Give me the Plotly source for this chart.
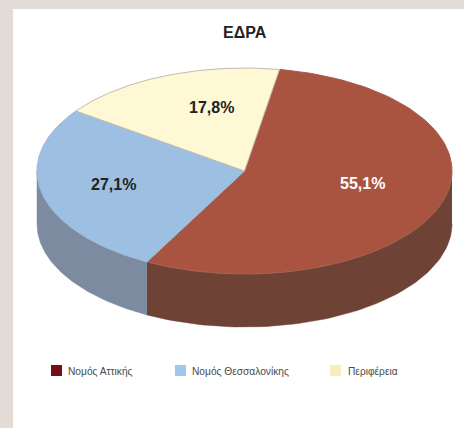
import numpy as np
import plotly.graph_objects as go

categories = ["Νομός Αττικής", "Νομός Θεσσαλονίκης", "Περιφέρεια"]
values = [55.1, 27.1, 17.8]
title_text = "ΕΔΡΑ"

top_colors = ["#a85440", "#9dbfe2", "#fff8d4"]
edge_colors = ["#a5604e", "#9db8d6", "#c4bab0"]
side_colors = ["#6f4236", "#7c8b9f", None]
legend_colors = ["#770d16", "#a0c8ec", "#f5efbf"]

W, H = 464, 428
CX, CY, RX, RY, DEPTH = 244.5, 171.0, 207.5, 103.0, 53.0
START = 9.7


def ell(a, dy=0.0):
    r = np.radians(a)
    return CX + RX * np.sin(r), CY - RY * np.cos(r) + dy


fig = go.Figure()
edges = START + np.concatenate([[0], np.cumsum(values)]) * 3.6

# side wall: only the front half of the ellipse (90..270 degrees) is visible
for i, col in enumerate(side_colors):
    lo, hi = max(edges[i], 90), min(edges[i + 1], 270)
    if col is None or lo >= hi:
        continue
    a = np.linspace(lo, hi, 80)
    x1, y1 = ell(a)
    x2, y2 = ell(a[::-1], DEPTH)
    fig.add_trace(go.Scatter(x=np.r_[x1, x2], y=np.r_[y1, y2], mode="lines", fill="toself",
                             fillcolor=col, line=dict(color=col, width=0.5),
                             hoverinfo="skip", showlegend=False))

# top face
for i, col in enumerate(top_colors):
    a = np.linspace(edges[i], edges[i + 1], 120)
    x, y = ell(a)
    fig.add_trace(go.Scatter(x=np.r_[CX, x, CX], y=np.r_[CY, y, CY], mode="lines", fill="toself",
                             fillcolor=col, line=dict(color=edge_colors[i], width=1),
                             name=categories[i], hoverinfo="skip", showlegend=False))

# legend row
swatch_x = [56.5, 180.5, 335.5]
legend_text_x = [66, 190, 346]
LEGEND_Y = 370.5
fig.add_trace(go.Scatter(x=swatch_x, y=[LEGEND_Y] * 3, mode="markers", hoverinfo="skip", showlegend=False,
                         marker=dict(symbol="square", size=11, color=legend_colors)))

annotations = [dict(x=tx, y=LEGEND_Y + 0.5, text=cat, showarrow=False, xanchor="left",
                    font=dict(family="Liberation Sans", size=10.2, color="#4a4a4a"))
               for tx, cat in zip(legend_text_x, categories)]

label_pos = [(362, 183), (113, 184), (211, 107)]
label_colors = ["#ffffff", "#222222", "#222222"]
annotations += [dict(x=p[0], y=p[1], text=f"<b>{v:.1f}%</b>".replace(".", ","), showarrow=False,
                     font=dict(family="Liberation Sans", size=16, color=c))
                for v, p, c in zip(values, label_pos, label_colors)]
annotations.append(dict(x=245, y=32, text=f"<b>{title_text}</b>", showarrow=False,
                        font=dict(family="Liberation Sans", size=16, color="#222222")))

fig.update_layout(width=W, height=H, margin=dict(l=13, r=0, t=9, b=0),
                  paper_bgcolor="#e3dcd6", plot_bgcolor="#ffffff", showlegend=False,
                  xaxis=dict(range=[13, W], visible=False, fixedrange=True),
                  yaxis=dict(range=[H, 9], visible=False, fixedrange=True),
                  annotations=annotations)
fig.write_html("out.html", config=dict(displayModeBar=False),
               post_script="document.body.style.margin='0';document.documentElement.style.overflow='hidden';")
